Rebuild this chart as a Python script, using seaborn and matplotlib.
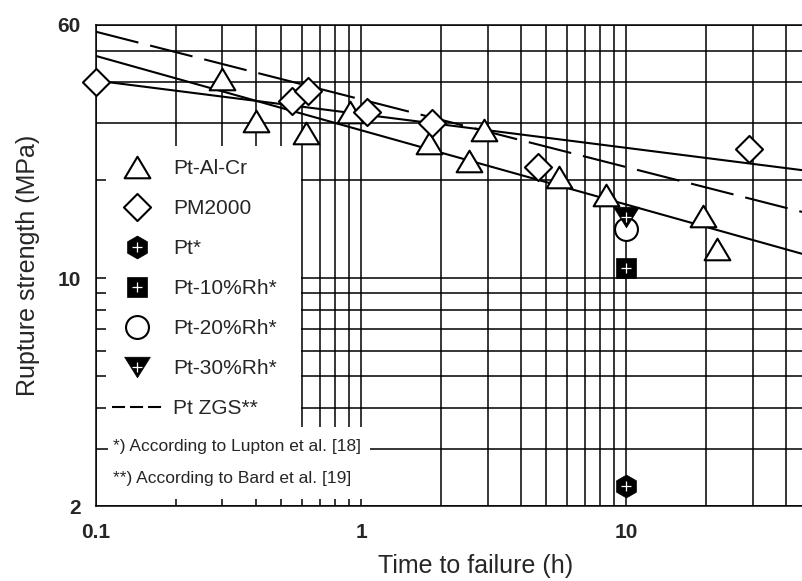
import matplotlib
matplotlib.use('Agg')
import matplotlib.pyplot as plt
import seaborn as sns
from matplotlib import font_manager
from matplotlib.lines import Line2D
from matplotlib.patches import Rectangle
from matplotlib.path import Path
from matplotlib.ticker import FixedLocator, NullFormatter, FixedFormatter

sns.set_style('white')
plt.rcParams['font.family'] = ['Liberation Sans', 'DejaVu Sans']

# ---------- data ----------
alcr_t = [0.3, 0.4, 0.62, 0.91, 1.8, 2.55, 2.9, 5.6, 8.4, 19.5, 22]
alcr_s = [41, 30.5, 28, 32.5, 26, 23, 28.5, 20.5, 18, 15.5, 12.3]
pm_t = [0.1, 0.55, 0.63, 1.05, 1.85, 4.65, 29]
pm_s = [40, 35, 37.5, 32.5, 30, 22, 25]
pt_t, pt_s = [10], [2.3]
rh10_t, rh10_s = [10], [10.8]
rh20_t, rh20_s = [10], [14.2]
rh30_t, rh30_s = [10], [15.4]

fit_t = [0.1, 46.1]
pm_fit = [40.5, 21.5]
alcr_fit = [48.2, 11.9]
zgs_fit = [57.2, 16.0]

x_major = [0.1, 1, 10]
x_minor = [0.2, 0.3, 0.4, 0.5, 0.6, 0.7, 0.8, 0.9, 2, 3, 4, 5, 6, 7, 8, 9, 20, 30, 40]
y_major = [2, 10, 60]
y_minor = [3, 4, 5, 6, 7, 8, 9, 20, 30, 40, 50]

# footnote font (narrow if available)
try:
    font_manager.findfont('Liberation Sans Narrow', fallback_to_default=False)
    NOTE_FONT, NOTE_SIZE = 'Liberation Sans Narrow', 15
except ValueError:
    NOTE_FONT, NOTE_SIZE = 'Liberation Sans', 12.5


def closed(pts):
    return Path(pts + [pts[0]], [Path.MOVETO] + [Path.LINETO] * (len(pts) - 1) + [Path.CLOSEPOLY])


TRI_UP = closed([(-1, -0.84), (1, -0.84), (0, 0.84)])
TRI_DN = closed([(-1, 0.8), (1, 0.8), (0, -0.8)])
DIAM = closed([(0, 1), (1, 0), (0, -1), (-1, 0)])
LW = 1.5
TRI_MS = 18.5

fig = plt.figure(figsize=(8.02, 5.81), dpi=100)
ax = fig.add_axes([96/802, 75/581, 706/802, 481/581])
ax.set_xscale('log'); ax.set_yscale('log')
ax.set_xlim(0.1, 46.1); ax.set_ylim(2, 60)

# ---------- fit lines ----------
sns.lineplot(x=fit_t, y=pm_fit, color='black', lw=LW, ax=ax, zorder=3)
sns.lineplot(x=fit_t, y=alcr_fit, color='black', lw=LW, ax=ax, zorder=3)
sns.lineplot(x=fit_t, y=zgs_fit, color='black', lw=LW, ax=ax, zorder=3,
             linestyle=(0, (21, 5.8)))

# ---------- points ----------
sk = dict(ax=ax, clip_on=False, zorder=4)
sns.scatterplot(x=alcr_t, y=alcr_s, marker=TRI_UP, s=TRI_MS**2, color='white',
                edgecolor='black', linewidth=LW, **sk)
sns.scatterplot(x=pm_t, y=pm_s, marker=DIAM, s=19.5**2, color='white',
                edgecolor='black', linewidth=LW, **sk)
sns.scatterplot(x=rh20_t, y=rh20_s, marker='o', s=16.5**2, color='white',
                edgecolor='black', linewidth=LW, **sk)
sns.scatterplot(x=rh30_t, y=rh30_s, marker=TRI_DN, s=TRI_MS**2, color='black',
                edgecolor='black', linewidth=0.5, **sk)
sns.scatterplot(x=rh10_t, y=rh10_s, marker='s', s=15**2, color='black',
                edgecolor='black', linewidth=0.5, **sk)
sns.scatterplot(x=pt_t, y=pt_s, marker='h', s=16.5**2, color='black',
                edgecolor='black', linewidth=0.5, **sk)
for tt, ss in [(rh30_t, rh30_s), (rh10_t, rh10_s), (pt_t, pt_s)]:
    sns.scatterplot(x=tt, y=ss, marker='+', s=49, color='white', linewidth=0.9,
                    ax=ax, clip_on=False, zorder=5)

# ---------- axes / grid ----------
ax.xaxis.set_major_locator(FixedLocator(x_major))
ax.xaxis.set_major_formatter(FixedFormatter(['0.1', '1', '10']))
ax.xaxis.set_minor_locator(FixedLocator(x_minor))
ax.xaxis.set_minor_formatter(NullFormatter())
ax.yaxis.set_major_locator(FixedLocator(y_major))
ax.yaxis.set_major_formatter(FixedFormatter(['2', '10', '60']))
ax.yaxis.set_minor_locator(FixedLocator(y_minor))
ax.yaxis.set_minor_formatter(NullFormatter())
ax.set_axisbelow(True)
ax.grid(True, which='both', color='black', lw=1.1)
ax.tick_params(which='both', length=0)
ax.tick_params(axis='x', pad=12)
ax.tick_params(axis='y', pad=11)
for lab in ax.get_xticklabels() + ax.get_yticklabels():
    lab.set_fontweight('bold'); lab.set_fontsize(15)
for side in ['left', 'bottom', 'top']:
    ax.spines[side].set_color('black'); ax.spines[side].set_linewidth(1.1)
ax.spines['right'].set_visible(False)

ax.set_xlabel('Time to failure (h)', fontsize=18)
ax.set_ylabel('Rupture strength (MPa)', fontsize=18)
ax.xaxis.set_label_coords(0.537, -0.100)
ax.yaxis.set_label_coords(-0.079, 0.5)

# white areas behind legend and notes
ax.add_patch(Rectangle((0.0142, 0.162), 0.276, 0.586, transform=ax.transAxes,
                       facecolor='white', edgecolor='none', zorder=1))
ax.add_patch(Rectangle((0.017, 0.0146), 0.371, 0.15, transform=ax.transAxes,
                       facecolor='white', edgecolor='none', zorder=1))

# ---------- legend ----------
def mk(marker, ms, fc, mew=LW):
    return Line2D([], [], ls='none', marker=marker, ms=ms, mfc=fc, mec='black', mew=mew)
plus = Line2D([], [], ls='none', marker='+', ms=7, mec='white', mew=0.9)
handles = [
    mk(TRI_UP, TRI_MS, 'white'),
    mk(DIAM, 19.5, 'white'),
    (mk('h', 16.5, 'black', 0.5), plus),
    (mk('s', 15, 'black', 0.5), plus),
    mk('o', 16.5, 'white'),
    (mk(TRI_DN, TRI_MS, 'black', 0.5), plus),
    Line2D([], [], color='black', lw=LW, ls=(0, (6.25, 2.4))),
]
labels = ['Pt-Al-Cr', 'PM2000', 'Pt*', 'Pt-10%Rh*', 'Pt-20%Rh*', 'Pt-30%Rh*', 'Pt ZGS**']
ax.legend(handles, labels, loc='upper left', bbox_to_anchor=(0.0227, 0.721),
          frameon=False, fontsize=15, borderpad=0, borderaxespad=0,
          handlelength=2.4, handletextpad=0.53, labelspacing=1.01)

ax.text(0.024, 0.1227, '*) According to Lupton et al. [18]', transform=ax.transAxes,
        ha='left', va='center', family=NOTE_FONT, fontsize=NOTE_SIZE, zorder=6)
ax.text(0.024, 0.058, '**) According to Bard et al. [19]', transform=ax.transAxes,
        ha='left', va='center', family=NOTE_FONT, fontsize=NOTE_SIZE, zorder=6)

fig.savefig('out.png', dpi=100)
